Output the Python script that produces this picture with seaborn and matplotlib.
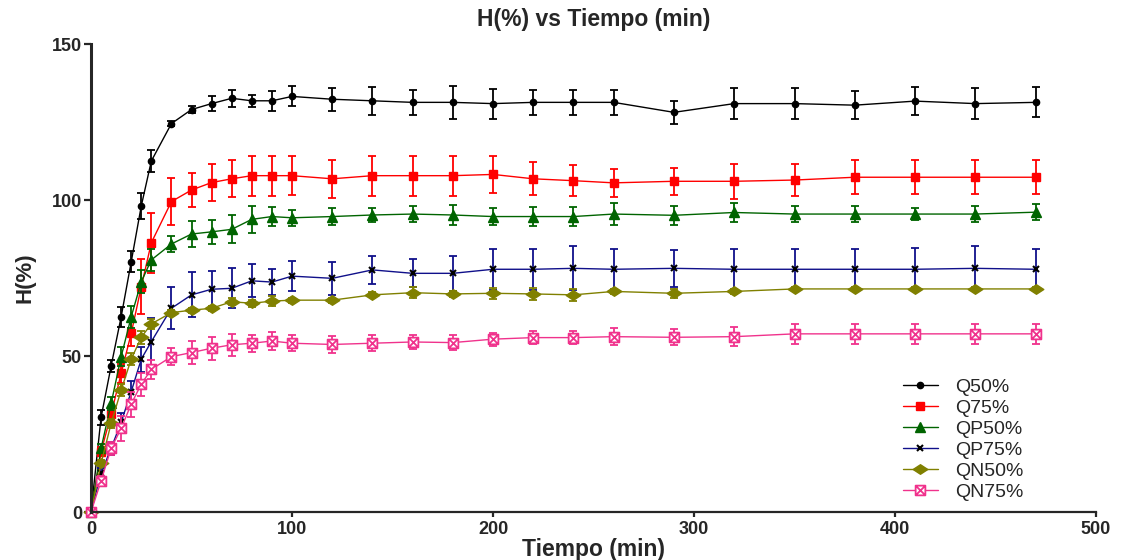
import numpy as np
import matplotlib
matplotlib.use("Agg")
import matplotlib.pyplot as plt
from matplotlib.path import Path
import seaborn as sns

# time points (min)
tiempo = [0, 5, 10, 15, 20, 25, 30, 40, 50, 60, 70, 80, 90, 100,
          120, 140, 160, 180, 200, 220, 240, 260, 290, 320, 350, 380, 410, 440, 470]

q50 = [0, 30.3, 46.8, 62.6, 80.2, 98.1, 112.5, 124.5, 129.0, 130.9, 132.6, 131.8, 131.8, 133.2,
       132.3, 131.8, 131.3, 131.3, 130.9, 131.3, 131.3, 131.3, 128.1, 130.9, 130.9, 130.4, 131.7, 130.9, 131.3]
q50_sd = [0, 2.5, 1.8, 3.2, 3.4, 4.3, 3.4, 0.9, 1.2, 2.35, 2.8, 1.9, 3.2, 3.2,
          3.7, 4.4, 3.9, 5.2, 4.8, 3.9, 3.9, 3.9, 3.6, 5.0, 5.0, 4.4, 4.4, 5.0, 4.8]

q75 = [0, 19.3, 31.4, 44.4, 57.3, 72.2, 86.3, 99.5, 103.2, 105.6, 106.8, 107.8, 107.8, 107.8,
       106.8, 107.8, 107.8, 107.8, 108.2, 106.8, 106.2, 105.5, 106.0, 106.0, 106.4, 107.3, 107.3, 107.3, 107.3]
q75_sd = [0, 1.5, 2.0, 3.0, 4.0, 8.8, 9.6, 7.6, 5.3, 6.0, 5.9, 6.4, 6.4, 6.3,
          6.0, 6.4, 6.4, 6.4, 5.9, 5.3, 4.9, 4.6, 4.3, 5.6, 5.1, 5.4, 5.4, 5.4, 5.4]

qp50 = [0, 20.4, 34.8, 49.8, 62.6, 73.8, 80.8, 85.9, 89.1, 89.8, 90.6, 93.8, 94.7, 94.3,
        94.7, 95.2, 95.5, 95.2, 94.7, 94.7, 94.7, 95.5, 95.1, 96.0, 95.5, 95.5, 95.5, 95.5, 96.1]
qp50_sd = [0, 1.5, 2.0, 3.0, 3.5, 3.7, 3.5, 2.5, 4.1, 3.8, 4.5, 4.3, 3.0, 2.5,
           2.8, 2.1, 2.5, 3.2, 2.8, 3.0, 3.0, 3.6, 3.1, 3.0, 2.6, 2.6, 1.9, 2.6, 2.5]

qp75 = [0, 12.5, 20.4, 28.8, 38.6, 49.0, 54.6, 65.3, 69.6, 71.4, 71.7, 74.1, 73.7, 75.6,
        74.9, 77.6, 76.5, 76.5, 77.8, 77.8, 78.1, 77.8, 78.1, 77.8, 77.8, 77.8, 77.8, 78.1, 77.8]
qp75_sd = [0, 1.5, 2.0, 3.0, 3.5, 4.0, 7.5, 6.8, 7.2, 6.0, 6.4, 5.3, 4.1, 4.8,
           5.2, 4.6, 4.5, 5.7, 6.6, 6.6, 7.1, 6.6, 5.9, 6.5, 6.5, 6.5, 6.9, 7.2, 6.5]

qn50 = [0, 15.6, 28.4, 39.1, 49.0, 56.0, 60.3, 63.9, 64.7, 65.3, 67.4, 66.9, 67.6, 67.9,
        67.9, 69.6, 70.3, 69.9, 70.1, 69.9, 69.6, 70.7, 70.1, 70.7, 71.5, 71.5, 71.5, 71.5, 71.5]
qn50_sd = [0, 1.0, 1.5, 2.0, 2.0, 2.0, 1.5, 1.0, 0.8, 0.8, 1.2, 1.2, 1.5, 0.8,
           0.8, 0.8, 1.8, 1.0, 1.8, 2.0, 2.0, 0.8, 1.5, 0.8, 0.5, 0.5, 0.5, 0.5, 0.5]

qn75 = [0, 10.0, 20.4, 26.8, 34.6, 41.0, 45.7, 49.8, 51.1, 52.5, 53.6, 54.1, 54.8, 54.1,
        53.7, 54.1, 54.5, 54.3, 55.4, 55.9, 55.9, 56.2, 56.0, 56.2, 57.1, 57.1, 57.1, 57.1, 57.1]
qn75_sd = [0, 1.5, 2.0, 4.0, 4.0, 3.7, 3.0, 2.8, 3.6, 3.7, 3.6, 2.7, 2.8, 2.5,
           2.8, 2.5, 2.1, 2.4, 2.1, 2.1, 2.0, 2.7, 2.5, 3.0, 3.1, 3.1, 3.1, 3.1, 3.1]

series_names = ["Q50%", "Q75%", "QP50%", "QP75%", "QN50%", "QN75%"]

sns.set_style("ticks")
plt.rcParams['font.family'] = ['Liberation Sans', 'DejaVu Sans']

# wide diamond and boxed-x markers
diamond = Path([(-1.3, 0), (0, 0.85), (1.3, 0), (0, -0.85), (-1.3, 0)],
               [Path.MOVETO, Path.LINETO, Path.LINETO, Path.LINETO, Path.CLOSEPOLY])
boxx = Path([(-1, -1), (1, -1), (1, 1), (-1, 1), (-1, -1),
             (-1, -1), (1, 1), (-1, 1), (1, -1)],
            [Path.MOVETO, Path.LINETO, Path.LINETO, Path.LINETO, Path.CLOSEPOLY,
             Path.MOVETO, Path.LINETO, Path.MOVETO, Path.LINETO])

styles = [
    dict(color='black', marker='o', markersize=4.5, mec='black', mfc='black'),
    dict(color='#FF0000', marker='s', markersize=6, mec='#FF0000', mfc='#FF0000'),
    dict(color='#006400', marker='^', markersize=6.5, mec='#006400', mfc='#006400'),
    dict(color='#10108A', marker='x', markersize=4, mec='black', mfc='black', mew=1.5),
    dict(color='#808000', marker=diamond, markersize=10.5, mec='#808000', mfc='#808000'),
    dict(color='#F0328C', marker=boxx, markersize=7, mec='#F0328C', mfc='white', mew=1.3),
]

means = [q50, q75, qp50, qp75, qn50, qn75]
sds = [q50_sd, q75_sd, qp50_sd, qp75_sd, qn50_sd, qn75_sd]

fig = plt.figure(figsize=(11.21, 5.6), dpi=100)
ax = fig.add_axes([0.0812, 0.0857, 0.8965, 0.8357])

for name, y, sd, st in zip(series_names, means, sds, styles):
    c = st['color']
    ax.errorbar(tiempo, y, yerr=sd, fmt='none', ecolor=c, elinewidth=1.3,
                capsize=3.2, capthick=1.3, clip_on=False)
    sns.lineplot(x=tiempo, y=y, ax=ax, label=name, linewidth=1.0,
                 marker=st['marker'], markersize=st['markersize'],
                 markeredgecolor=st['mec'], markerfacecolor=st['mfc'],
                 markeredgewidth=st.get('mew', 1.0), color=c, clip_on=False)

ax.set_xlim(0, 500)
ax.set_ylim(0, 150)
ax.set_xticks([0, 100, 200, 300, 400, 500])
ax.set_yticks([0, 50, 100, 150])

sns.despine(ax=ax)
ax.spines['left'].set_linewidth(2.2)
ax.spines['bottom'].set_linewidth(1.6)
ax.tick_params(axis='y', length=5, width=1.6, pad=1.5, labelsize=13)
ax.tick_params(axis='x', length=3.5, width=1.6, pad=3, labelsize=13)
for lab in ax.get_xticklabels() + ax.get_yticklabels():
    lab.set_fontweight('bold')

ax.set_title("H(%) vs Tiempo (min)", fontsize=16.5, fontweight='bold', pad=13)
ax.set_xlabel("Tiempo (min)", fontsize=16.5, fontweight='bold', labelpad=0)
ax.set_ylabel("H(%)", fontsize=16, fontweight='bold', labelpad=12)

ax.legend(loc='upper left', bbox_to_anchor=(0.80, 0.302), frameon=False,
          fontsize=14, handlelength=1.8, handletextpad=0.9, labelspacing=0.17,
          borderaxespad=0)

fig.savefig("out.png", dpi=100)
